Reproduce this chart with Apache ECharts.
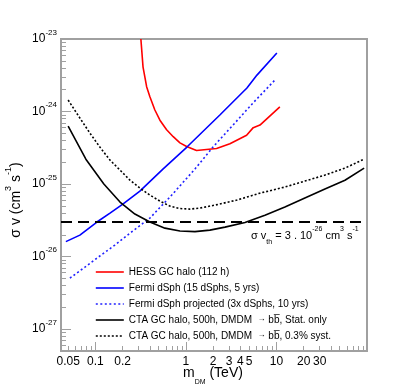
<!DOCTYPE html>
<html>
<head>
<meta charset="utf-8">
<script src="https://cdn.jsdelivr.net/npm/echarts@6/dist/echarts.min.js"></script>
<style>
html, body { margin: 0; padding: 0; background: #fff; }
#chart { width: 407px; height: 391px; }
</style>
</head>
<body>
<div id="chart"></div>
<script>
// masses in TeV, <sigma v> in cm^3 s^-1
const hessMass = [0.318, 0.336, 0.368, 0.40, 0.454, 0.516, 0.612, 0.724, 0.859, 1.018, 1.31, 2.18, 3.06, 4.68, 5.54, 6.57, 10.9]
const hessSv = [1e-23, 4.1e-24, 2.2e-24, 1.6e-24, 1.05e-24, 7.6e-25, 5.6e-25, 4.5e-25, 3.7e-25, 3.3e-25, 2.9e-25, 3.1e-25, 3.6e-25, 4.7e-25, 6.0e-25, 6.5e-25, 1.16e-24]

const fermiMass = [0.0472, 0.0674, 0.104, 0.145, 0.201, 0.310, 0.557, 1.026, 2.37, 4.72, 6.09, 10.1]
const fermiSv = [1.61e-26, 1.98e-26, 3.0e-26, 3.98e-26, 5.3e-26, 8.0e-26, 1.61e-25, 3.24e-25, 8.96e-25, 2.11e-24, 3.18e-24, 6.41e-24]

const fermiProjMass = [0.0523, 0.0766, 0.112, 0.164, 0.241, 0.40, 0.666, 1.257, 1.99, 3.31, 5.50, 9.62]
const fermiProjSv = [5.05e-27, 7.16e-27, 1.02e-26, 1.44e-26, 2.11e-26, 3.4e-26, 6.62e-26, 1.61e-25, 3.24e-25, 6.51e-25, 1.31e-24, 2.72e-24]

const ctaMass = [0.05, 0.0785, 0.124, 0.187, 0.273, 0.40, 0.586, 0.859, 1.257, 1.84, 2.70, 4.49, 7.46, 12.4, 20.6, 34.3, 57.1, 93]
const ctaStatSv = [6.3e-25, 2.2e-25, 1.0e-25, 5.65e-26, 3.86e-26, 3.0e-26, 2.47e-26, 2.25e-26, 2.21e-26, 2.32e-26, 2.55e-26, 2.95e-26, 3.73e-26, 4.82e-26, 6.41e-26, 8.53e-26, 1.13e-25, 1.66e-25]

const ctaSystMass = [0.05, 0.0674, 0.0869, 0.112, 0.145, 0.187, 0.241, 0.310, 0.40, 0.516, 0.666, 0.859, 1.107, 1.428, 2.09, 3.66, 6.57, 12.4, 20.6, 34.3, 57.1, 93]
const ctaSystSv = [1.44e-24, 8.13e-25, 5.05e-25, 3.24e-25, 2.14e-25, 1.56e-25, 1.13e-25, 8.8e-26, 7.05e-26, 5.83e-26, 4.97e-26, 4.6e-26, 4.52e-26, 4.67e-26, 5.13e-26, 6.02e-26, 7.5e-26, 9.1e-26, 1.10e-25, 1.33e-25, 1.66e-25, 2.21e-25]

const thresholdSv = 3e-26

// axes (log10 of these are used on value axes)
const xRange = [0.0417, 100]
const yRange = [5e-28, 1e-23]
const xMajorTicks = [0.1, 1, 10]
const xTickLabels = [0.05, 0.1, 0.2, 1, 2, 3, 4, 5, 10, 20, 30]
const xDecades = [0.01, 0.1, 1, 10]
const yMajorTicks = [1e-27, 1e-26, 1e-25, 1e-24, 1e-23]
const yDecades = [1e-28, 1e-27, 1e-26, 1e-25, 1e-24]
const minorSteps = [2, 3, 4, 5, 6, 7, 8, 9]

const names = [
  'HESS GC halo (112 h)',
  'Fermi dSph (15 dSphs, 5 yrs)',
  'Fermi dSph projected (3x dSphs, 10 yrs)',
  'CTA GC halo, 500h, DMDM  \u2192 bb\u0305, Stat. only',
  'CTA GC halo, 500h, DMDM  \u2192 bb\u0305, 0.3% syst.'
]

const lg = Math.log10
const FONT = 'Liberation Sans'
const GRAY = '#a0a0a0'

function pts(xs, ys) {
  return xs.map((x, i) => [lg(x), lg(ys[i])])
}
function minors(decades, lo, hi) {
  const out = []
  decades.forEach(d => minorSteps.forEach(k => {
    const v = d * k
    if (v >= lo && v <= hi) out.push(lg(v))
  }))
  return out
}

const xMinor = minors(xDecades, xRange[0], xRange[1])
const yMinor = minors(yDecades, yRange[0], yRange[1])

const baseX = {
  type: 'value', position: 'bottom', min: lg(xRange[0]), max: lg(xRange[1]),
  splitLine: { show: false }, axisLine: { show: false, onZero: false }
}
const baseY = {
  type: 'value', position: 'left', min: lg(yRange[0]), max: lg(yRange[1]),
  splitLine: { show: false }, axisLine: { show: false, onZero: false }
}

const lineSeries = (name, data, color, type) => ({
  name: name, type: 'line', data: data, symbol: 'none', smooth: false,
  lineStyle: { color: color, width: 1.6, type: type },
  itemStyle: { color: color }
})

const option = {
  animation: false,
  grid: { left: 61, top: 39, right: 40, bottom: 40, show: true, borderColor: GRAY, borderWidth: 2 },
  xAxis: [
    Object.assign({}, baseX, {
      axisTick: { inside: true, length: 9, customValues: xMajorTicks.map(lg), lineStyle: { color: GRAY, width: 1 } },
      axisLabel: {
        customValues: xTickLabels.map(lg), margin: 5,
        fontFamily: FONT, fontSize: 12, color: '#000',
        formatter: v => String(+Math.pow(10, v).toPrecision(2))
      }
    }),
    Object.assign({}, baseX, {
      axisTick: { inside: true, length: 5, customValues: xMinor, lineStyle: { color: GRAY, width: 1 } },
      axisLabel: { show: false }
    })
  ],
  yAxis: [
    Object.assign({}, baseY, {
      axisTick: { inside: true, length: 10, customValues: yMajorTicks.map(lg), lineStyle: { color: GRAY, width: 1 } },
      axisLabel: {
        customValues: yMajorTicks.map(lg), margin: 4,
        formatter: v => '{b|10}{s|' + Math.round(v) + '}',
        rich: {
          b: { fontFamily: FONT, fontSize: 12, color: '#000' },
          s: { fontFamily: FONT, fontSize: 8, color: '#000', padding: [0, 0, 13, 0] }
        }
      }
    }),
    Object.assign({}, baseY, {
      axisTick: { inside: true, length: 5, customValues: yMinor, lineStyle: { color: GRAY, width: 1 } },
      axisLabel: { show: false }
    })
  ],
  legend: {
    orient: 'vertical', left: 90, top: 260,
    itemWidth: 28, itemHeight: 14, itemGap: 2,
    data: names,
    itemStyle: { opacity: 0 },
    lineStyle: { width: 1.6 },
    formatter: n => n.replace('\u2192', '{a|\u2192}'),
    textStyle: {
      fontFamily: FONT, fontSize: 10, color: '#000', lineHeight: 14,
      rich: { a: { fontFamily: FONT, fontSize: 8, color: '#000', padding: [0, 0, 3, 0] } }
    }
  },
  series: [
    lineSeries(names[0], pts(hessMass, hessSv), '#ff0000', 'solid'),
    lineSeries(names[1], pts(fermiMass, fermiSv), '#0000ff', 'solid'),
    lineSeries(names[2], pts(fermiProjMass, fermiProjSv), '#2020ff', [2, 2.5]),
    Object.assign(lineSeries(names[3], pts(ctaMass, ctaStatSv), '#000', 'solid'), {
      markLine: {
        silent: true, symbol: 'none', label: { show: false },
        lineStyle: { color: '#000', width: 2, type: [11, 6] },
        data: [{ yAxis: lg(thresholdSv) }]
      }
    }),
    lineSeries(names[4], pts(ctaSystMass, ctaSystSv), '#000', [2, 2])
  ],
  graphic: [
    {
      type: 'text', x: 16, y: 200, rotation: Math.PI / 2,
      style: {
        text: '{t|\u03c3 v (cm}{s|3}{t| s}{s|-1}{t|)}',
        align: 'center', verticalAlign: 'middle',
        rich: {
          t: { fontFamily: FONT, fontSize: 14, fill: '#000' },
          s: { fontFamily: FONT, fontSize: 9, fill: '#000', padding: [0, 0, 14, 0] }
        }
      }
    },
    {
      type: 'text', x: 183, y: 373,
      style: {
        text: '{t|m}{d|DM}{t| (TeV)}',
        align: 'left', verticalAlign: 'middle',
        rich: {
          t: { fontFamily: FONT, fontSize: 14, fill: '#000' },
          d: { fontFamily: FONT, fontSize: 7, fill: '#000', padding: [18, 0, 0, 0] }
        }
      }
    },
    {
      type: 'text', x: 251, y: 236,
      style: {
        text: '{t|\u03c3 v}{d|th}{t| = 3 . 10}{s|-26}{t| cm}{s|3}{t| s}{s|-1}',
        align: 'left', verticalAlign: 'middle',
        rich: {
          t: { fontFamily: FONT, fontSize: 11, fill: '#000' },
          d: { fontFamily: FONT, fontSize: 7, fill: '#000', padding: [13, 0, 0, 0] },
          s: { fontFamily: FONT, fontSize: 7, fill: '#000', padding: [0, 0, 13, 0] }
        }
      }
    }
  ]
}

const chart = echarts.init(document.getElementById('chart'))
chart.setOption(option)
</script>
</body>
</html>
